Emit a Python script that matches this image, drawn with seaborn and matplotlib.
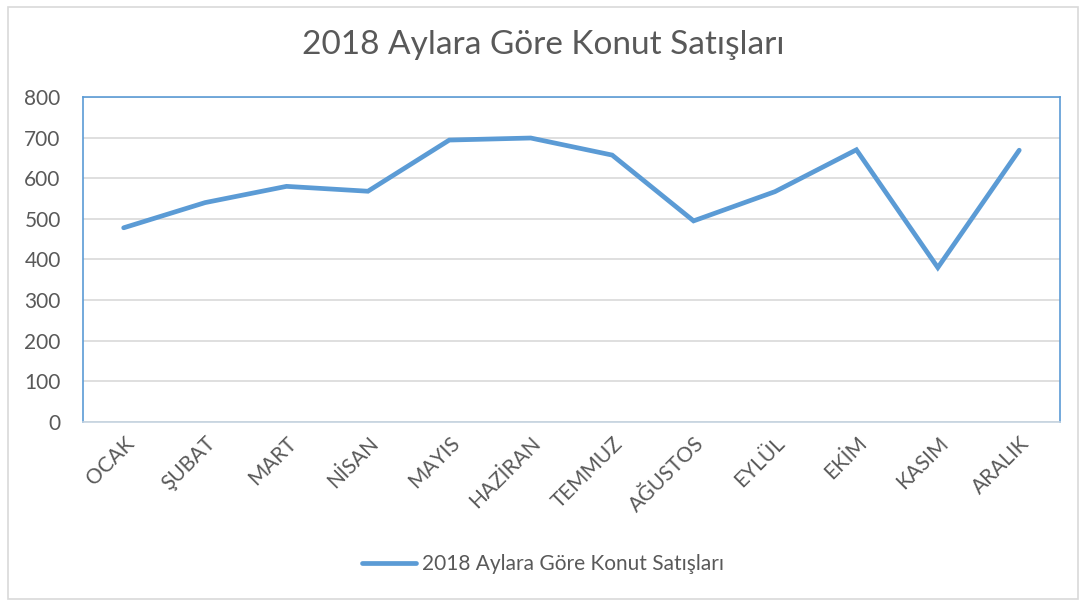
import pandas as pd
import matplotlib.pyplot as plt
import seaborn as sns
from matplotlib.patches import Rectangle

# Monthly values
aylar = ['OCAK', 'ŞUBAT', 'MART', 'NİSAN', 'MAYIS', 'HAZİRAN',
         'TEMMUZ', 'AĞUSTOS', 'EYLÜL', 'EKİM', 'KASIM', 'ARALIK']
satislar = [478, 540, 580, 568, 694, 699, 657, 495, 567, 670, 380, 669]
y_ticks = [0, 100, 200, 300, 400, 500, 600, 700, 800]
baslik = '2018 Aylara Göre Konut Satışları'

df = pd.DataFrame({'Ay': aylar, 'Satis': satislar})

sns.set_style('white')
plt.rcParams['font.family'] = ['Lato', 'DejaVu Sans']

fig = plt.figure(figsize=(10.86, 6.05), dpi=100)
ax = fig.add_axes([0.0764, 0.3025, 0.8996, 0.5372])

sns.lineplot(data=df, x='Ay', y='Satis', ax=ax, color='#5B9BD5',
             linewidth=3.4, solid_joinstyle='miter', solid_capstyle='round',
             label=baslik, legend=False)

ax.set_xlim(-0.5, len(aylar) - 0.5)
ax.set_ylim(0, 800)
ax.set_yticks(y_ticks)
ax.grid(axis='y', color='#D9D9D9', linewidth=1.2)
ax.set_axisbelow(True)
ax.set_xlabel('')
ax.set_ylabel('')

for side in ['left', 'top', 'right']:
    ax.spines[side].set_color('#5B9BD5')
    ax.spines[side].set_linewidth(1.2)
ax.spines['bottom'].set_color('#C5D3E0')
ax.spines['bottom'].set_linewidth(1.2)

ax.tick_params(axis='both', length=0, labelsize=15, colors='#595959')
ax.tick_params(axis='y', pad=16)
ax.tick_params(axis='x', pad=8)
plt.setp(ax.get_xticklabels(), rotation=45, ha='right', rotation_mode='anchor')

fig.text(0.5, 1 - 45 / 605, baslik, ha='center', va='center',
         fontsize=24, color='#595959')

handles, labels = ax.get_legend_handles_labels()
fig.legend(handles, labels, loc='center', bbox_to_anchor=(0.5, 1 - 564 / 605),
           frameon=False, fontsize=15, labelcolor='#595959',
           handlelength=2.6, handletextpad=0.25)

# light outer frame like the chart area border
fig.add_artist(Rectangle((8 / 1086, 6 / 605), 1070 / 1086, 592 / 605,
                         transform=fig.transFigure, fill=False,
                         edgecolor='#D9D9D9', linewidth=1.2))

fig.savefig('out.png', dpi=100)
